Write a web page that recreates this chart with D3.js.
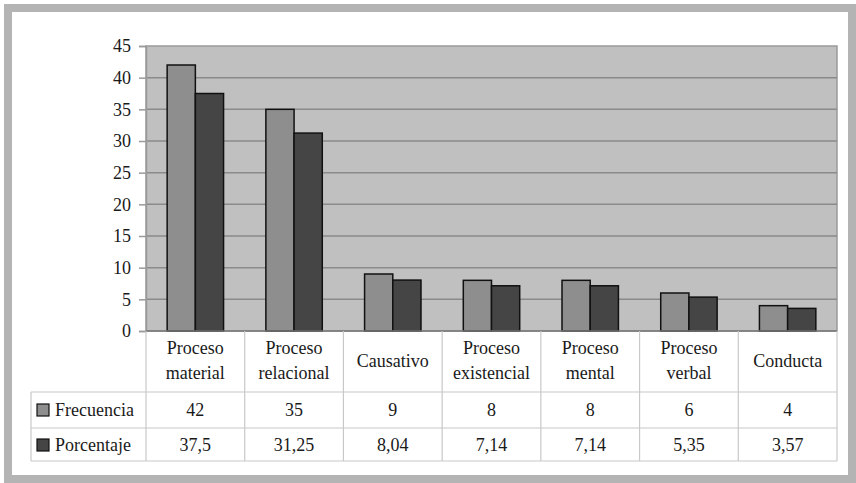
<!DOCTYPE html>
<html><head><meta charset="utf-8">
<script src="https://cdn.jsdelivr.net/npm/d3@7"></script>
<style>
html,body{margin:0;padding:0;background:#fff;}
</style></head>
<body>
<svg id="c" width="856" height="483"></svg>
<script>
const categories = [["Proceso","material"],["Proceso","relacional"],["Causativo"],["Proceso","existencial"],["Proceso","mental"],["Proceso","verbal"],["Conducta"]];
const seriesNames = ["Frecuencia","Porcentaje"];
const frecuencia = [42,35,9,8,8,6,4];
const porcentaje = [37.5,31.25,8.04,7.14,7.14,5.35,3.57];
const frecuenciaLabels = ["42","35","9","8","8","6","4"];
const porcentajeLabels = ["37,5","31,25","8,04","7,14","7,14","5,35","3,57"];
const yTicks = [0,5,10,15,20,25,30,35,40,45];

const colors = ["#8e8e8e","#454545"];
const FONT = "Liberation Serif";
const svg = d3.select("#c");

// outer frame
svg.append("rect").attr("x",8).attr("y",8).attr("width",844).attr("height",471)
  .attr("fill","#fff").attr("stroke","#b4b4b4").attr("stroke-width",8);

const L=146, R=837, T=46, B=331;
const idx = categories.map((d,i)=>i);
const x0 = d3.scaleBand().domain(idx).range([L,R]).padding(0);
const x1 = d3.scaleBand().domain(seriesNames).range([0,x0.bandwidth()]).paddingInner(0).paddingOuter(0.75);
const y = d3.scaleLinear().domain([0,45]).range([B,T]);

// plot area
svg.append("rect").attr("x",L).attr("y",T).attr("width",R-L).attr("height",B-T)
  .attr("fill","#c0c0c0").attr("stroke","#9a9a9a").attr("stroke-width",1.5);

// gridlines
svg.append("g").selectAll("line").data(yTicks.filter(t=>t>0&&t<45)).join("line")
  .attr("x1",L).attr("x2",R).attr("y1",d=>y(d)).attr("y2",d=>y(d))
  .attr("stroke","#8a8a8a").attr("stroke-width",1.5);

// y axis
const ya = svg.append("g").attr("transform",`translate(${L},0)`)
  .call(d3.axisLeft(y).tickValues(yTicks).tickSize(7).tickPadding(8));
ya.attr("font-family",null).attr("font-size",null);
ya.select(".domain").attr("stroke","#9a9a9a").attr("stroke-width",1.5);
ya.selectAll(".tick line").attr("stroke","#9a9a9a").attr("stroke-width",1.5);
ya.selectAll(".tick text").attr("fill","#1a1a1a").attr("font-family",FONT).attr("font-size",18);

// bars
const data = [frecuencia, porcentaje];
seriesNames.forEach((s,si)=>{
  svg.append("g").selectAll("rect").data(data[si]).join("rect")
    .attr("x",(d,i)=>x0(i)+x1(s))
    .attr("y",d=>y(d))
    .attr("width",x1.bandwidth())
    .attr("height",d=>y(0)-y(d))
    .attr("fill",colors[si]).attr("stroke","#111").attr("stroke-width",1.5);
});
svg.append("line").attr("x1",L).attr("x2",R).attr("y1",B).attr("y2",B).attr("stroke","#777").attr("stroke-width",1.5);

// table
const tableLeft = 31, row1 = 392, row2 = 428, row3 = 461;
const tl = svg.append("g").attr("stroke","#c8c8c8").attr("stroke-width",1.2);
idx.concat([idx.length]).forEach(i=>{
  const xx = i<idx.length ? x0(i) : R;
  tl.append("line").attr("x1",xx).attr("x2",xx).attr("y1",B).attr("y2",row3);
});
tl.append("line").attr("x1",tableLeft).attr("x2",tableLeft).attr("y1",row1).attr("y2",row3);
[row1,row2,row3].forEach(yy=>tl.append("line").attr("x1",tableLeft).attr("x2",R).attr("y1",yy).attr("y2",yy));

function txt(g){ return g.append("text").attr("font-family",FONT).attr("font-size",18).attr("fill","#1a1a1a"); }

// category labels
categories.forEach((c,i)=>{
  const cx = x0(i)+x0.bandwidth()/2;
  const t = txt(svg).attr("x",cx).attr("text-anchor","middle");
  if(c.length===1){
    t.attr("y",361).attr("dy","0.35em").text(c[0]);
  } else {
    t.append("tspan").attr("x",cx).attr("y",348).attr("dy","0.35em").text(c[0]);
    t.append("tspan").attr("x",cx).attr("y",373).attr("dy","0.35em").text(c[1]);
  }
});

// values rows
const rowsLabels = [frecuenciaLabels, porcentajeLabels];
const rowY = [410, 445];
rowsLabels.forEach((labs,ri)=>{
  labs.forEach((d,i)=>{
    txt(svg).attr("x",x0(i)+x0.bandwidth()/2).attr("y",rowY[ri]).attr("dy","0.35em")
      .attr("text-anchor","middle").text(d);
  });
  svg.append("rect").attr("x",37).attr("y",rowY[ri]-6).attr("width",12).attr("height",12)
    .attr("fill",colors[ri]).attr("stroke","#111").attr("stroke-width",1.2);
  txt(svg).attr("x",55).attr("y",rowY[ri]).attr("dy","0.35em").text(seriesNames[ri]);
});
</script>
</body></html>
